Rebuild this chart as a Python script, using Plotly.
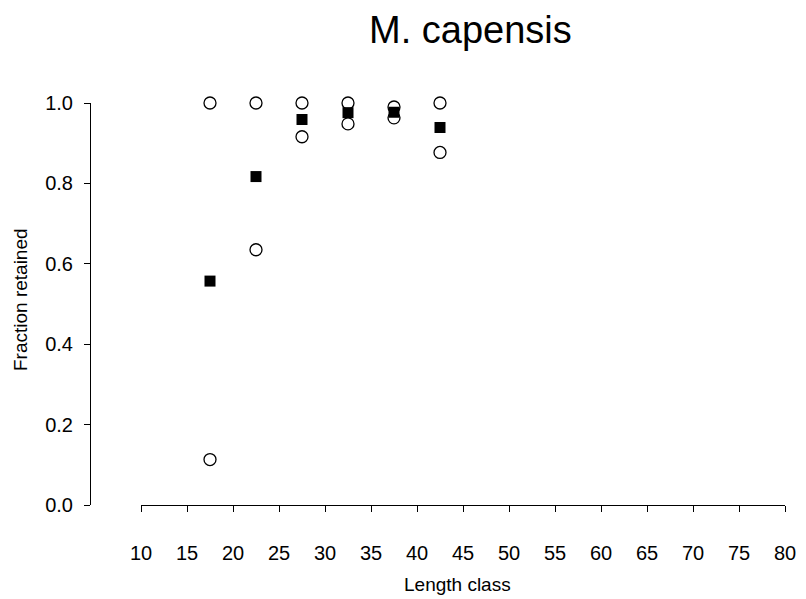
import plotly.graph_objects as go

lengths = [17.5, 22.5, 27.5, 32.5, 37.5, 42.5]
mean_retained = [0.557, 0.817, 0.959, 0.976, 0.977, 0.939]
upper_retained = [1.0, 1.0, 1.0, 1.0, 0.990, 1.0]
lower_retained = [0.113, 0.635, 0.916, 0.948, 0.963, 0.877]
x_ticks = list(range(10, 81, 5))
y_ticks = [0.0, 0.2, 0.4, 0.6, 0.8, 1.0]
y_ticktext = ["0.0", "0.2", "0.4", "0.6", "0.8", "1.0"]

# page body has an 8px margin; work in window pixels and shift
OFF = 8
W, H = 806 - OFF, 599 - OFF
AX_LEFT, AX_RIGHT, AX_TOP, AX_BOTTOM = 90, 785, 103, 505  # window px
L = AX_LEFT - OFF
R = W - (AX_RIGHT - OFF)
T = AX_TOP - OFF
B = H - (AX_BOTTOM - OFF)
pw, ph = W - L - R, H - T - B

def px_x(p):
    return (p - OFF - L) / pw

def px_y(p):
    return (H - B - (p - OFF)) / ph

FONT = "Liberation Sans, Arial, sans-serif"

fig = go.Figure()
fig.add_trace(go.Scatter(x=lengths, y=mean_retained, mode="markers",
                         marker=dict(symbol="square", size=11, color="black"),
                         cliponaxis=False, showlegend=False))
for ys in (upper_retained, lower_retained):
    fig.add_trace(go.Scatter(x=lengths, y=ys, mode="markers",
                             marker=dict(symbol="circle-open", size=12, color="black",
                                         line=dict(width=1.3, color="black")),
                             cliponaxis=False, showlegend=False))

fig.update_layout(
    width=W, height=H,
    margin=dict(l=L, r=R, t=T, b=B, autoexpand=False),
    paper_bgcolor="white", plot_bgcolor="white",
    font=dict(family=FONT, color="black"),
    xaxis=dict(domain=[px_x(141), 1], range=[10, 80], tickvals=x_ticks,
               showline=True, linecolor="black", linewidth=1,
               ticks="outside", ticklen=6, tickcolor="black", tickwidth=1,
               showgrid=False, zeroline=False, tickfont=dict(size=20),
               ticklabelstandoff=24, automargin=False),
    yaxis=dict(anchor="free", position=0, range=[0, 1], tickvals=y_ticks,
               ticktext=y_ticktext,
               showline=True, linecolor="black", linewidth=1,
               ticks="outside", ticklen=6, tickcolor="black", tickwidth=1,
               showgrid=False, zeroline=False, tickfont=dict(size=20),
               ticklabelstandoff=7, automargin=False),
    annotations=[
        dict(text="M. capensis", x=px_x(471), y=px_y(30), xref="paper", yref="paper",
             showarrow=False, font=dict(size=38), xanchor="center", yanchor="middle"),
        dict(text="Length class", x=px_x(457), y=px_y(584), xref="paper", yref="paper",
             showarrow=False, font=dict(size=19), xanchor="center", yanchor="middle"),
        dict(text="Fraction retained", x=px_x(20), y=px_y(300), xref="paper", yref="paper",
             showarrow=False, font=dict(size=19), textangle=-90,
             xanchor="center", yanchor="middle"),
    ],
)

fig.write_html("out.html")
